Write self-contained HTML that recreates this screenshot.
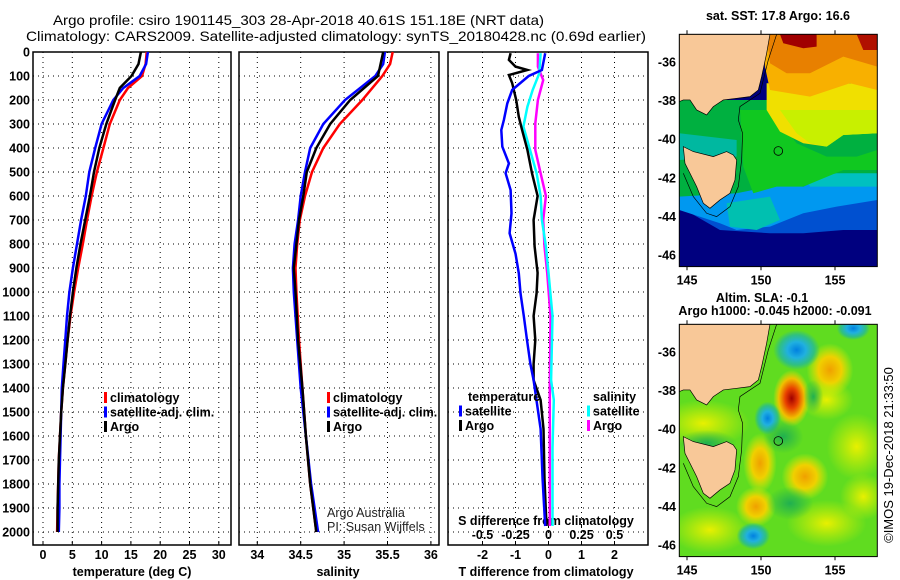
<!DOCTYPE html>
<html><head><meta charset="utf-8">
<style>
html,body{margin:0;padding:0;background:#fff;}
svg{display:block;font-family:"Liberation Sans",sans-serif;}
.t{font-size:12.5px;font-weight:bold;fill:#000;}
.h{font-size:14px;fill:#000;}
</style></head>
<body>
<svg id="c" width="900" height="580" viewBox="0 0 900 580" xmlns="http://www.w3.org/2000/svg">
<rect width="900" height="580" fill="#fff"/>
<text class="h" x="298.5" y="25" text-anchor="middle" textLength="491" lengthAdjust="spacingAndGlyphs">Argo profile: csiro 1901145_303 28-Apr-2018 40.61S 151.18E (NRT data)</text>
<text class="h" x="336" y="41" text-anchor="middle" textLength="620" lengthAdjust="spacingAndGlyphs">Climatology: CARS2009. Satellite-adjusted climatology: synTS_20180428.nc (0.69d earlier)</text>
<g id="plots"></g>

<!-- SST map -->
<g>
<text class="t" x="778" y="20" text-anchor="middle">sat. SST: 17.8 Argo: 16.6</text>
<svg x="679.3" y="34.3" width="198" height="232.3" viewBox="28 103 594 697" preserveAspectRatio="none">
<rect x="28" y="103" width="594" height="697" fill="#00007f"/>
<polygon points="28,590 300,570 400,560 500,530 622,540 622,690 520,690 400,700 300,700 150,690 28,620" fill="#0050d0"/>
<polygon points="28,580 200,560 300,550 400,560 500,510 622,520 622,600 500,620 400,640 300,680 200,690 150,670 28,630" fill="#0098f0"/>
<polygon points="400,520 520,500 622,500 622,560 520,560 420,560" fill="#00c0c0"/>
<polygon points="28,300 300,300 622,380 622,520 500,520 400,540 300,560 200,580 28,590" fill="#00b040"/>
<polygon points="210,330 300,330 380,430 470,470 560,470 622,450 622,510 520,510 400,560 320,560 250,580 220,500" fill="#10c820"/>
<polygon points="28,400 200,420 200,470 28,480" fill="#00b8a0"/>
<polygon points="170,610 300,590 330,660 260,690 180,680" fill="#00c0b0"/>
<polygon points="290,250 622,250 622,400 520,405 470,440 400,430 330,395 290,330" fill="#f0e000"/>
<polygon points="330,330 500,330 622,330 622,400 520,405 470,440 420,430 380,400" fill="#c8f000"/>
<polygon points="280,103 622,103 622,270 540,250 420,290 300,270 285,200" fill="#f8b000"/>
<polygon points="290,103 622,103 622,200 520,170 420,220 350,220 300,190" fill="#e88000"/>
<polygon points="330,103 440,103 440,140 400,145 340,130" fill="#a00000"/>
<polygon points="560,103 622,103 622,150 580,150" fill="#b01000"/>
<polygon points="28,103 300,103 290,160 275,230 265,270 240,290 200,295 160,300 130,320 110,345 80,330 60,300 40,300 28,305" fill="#f8c898" stroke="#000" stroke-width="2"/>
<polygon points="40,440 70,455 130,470 170,455 190,465 200,480 195,540 180,580 150,600 120,625 100,610 80,560 60,520 45,490" fill="#f8c898" stroke="#000" stroke-width="2"/>
<polyline points="320,103 295,180 270,280 210,320 205,360 218,400 215,480 205,560 180,620 140,650 110,640 70,590 40,520" fill="none" stroke="#000" stroke-width="2"/>
<circle cx="325" cy="453" r="13" fill="none" stroke="#000" stroke-width="2.5"/>
</svg>
<rect x="679.3" y="34.3" width="198" height="232.3" fill="none" stroke="#000" stroke-width="1"/>
</g>

<!-- SLA map -->
<g>
<text class="t" x="762" y="302" text-anchor="middle">Altim. SLA: -0.1</text>
<text class="t" x="775" y="315" text-anchor="middle">Argo h1000: -0.045 h2000: -0.091</text>
<svg x="679.3" y="324.3" width="198" height="232.3" viewBox="28 103 594 697" preserveAspectRatio="none">
<defs>
<radialGradient id="gr"><stop offset="0" stop-color="#a00000"/><stop offset="0.35" stop-color="#e84000"/><stop offset="0.7" stop-color="#f0c000"/><stop offset="1" stop-color="#f0e000" stop-opacity="0"/></radialGradient>
<radialGradient id="go"><stop offset="0" stop-color="#f0a000"/><stop offset="0.5" stop-color="#f0d000"/><stop offset="1" stop-color="#e0f000" stop-opacity="0"/></radialGradient>
<radialGradient id="gy"><stop offset="0" stop-color="#e8f000"/><stop offset="1" stop-color="#d8f000" stop-opacity="0"/></radialGradient>
<radialGradient id="gb"><stop offset="0" stop-color="#0080e0"/><stop offset="0.4" stop-color="#20b0e0"/><stop offset="0.75" stop-color="#30c080"/><stop offset="1" stop-color="#30c080" stop-opacity="0"/></radialGradient>
<radialGradient id="gg"><stop offset="0" stop-color="#20b050"/><stop offset="1" stop-color="#20b050" stop-opacity="0"/></radialGradient>
</defs>
<rect x="28" y="103" width="594" height="697" fill="#60dc20"/>
<ellipse cx="480" cy="240" rx="70" ry="80" fill="url(#go)"/>
<ellipse cx="560" cy="470" rx="90" ry="100" fill="url(#gy)"/>
<ellipse cx="270" cy="520" rx="50" ry="90" fill="url(#go)"/>
<ellipse cx="405" cy="560" rx="70" ry="70" fill="url(#go)"/>
<ellipse cx="258" cy="650" rx="60" ry="60" fill="url(#go)"/>
<ellipse cx="470" cy="700" rx="120" ry="70" fill="url(#gy)"/>
<ellipse cx="580" cy="620" rx="70" ry="70" fill="url(#gy)"/>
<ellipse cx="100" cy="400" rx="140" ry="70" fill="url(#gy)"/>
<ellipse cx="470" cy="330" rx="80" ry="60" fill="url(#gy)"/>
<ellipse cx="120" cy="720" rx="120" ry="70" fill="url(#gy)"/>
<ellipse cx="365" cy="325" rx="55" ry="85" fill="url(#gr)"/>
<ellipse cx="380" cy="180" rx="70" ry="60" fill="url(#gb)"/>
<ellipse cx="293" cy="385" rx="40" ry="50" fill="url(#gb)"/>
<ellipse cx="250" cy="738" rx="50" ry="40" fill="url(#gb)"/>
<ellipse cx="550" cy="115" rx="50" ry="35" fill="url(#gb)"/>
<ellipse cx="430" cy="320" rx="30" ry="50" fill="url(#gg)"/>
<ellipse cx="340" cy="440" rx="60" ry="50" fill="url(#gg)"/>
<ellipse cx="360" cy="640" rx="70" ry="50" fill="url(#gg)"/>
<ellipse cx="110" cy="460" rx="90" ry="40" fill="url(#gg)"/>
<polygon points="28,103 300,103 290,160 275,230 265,270 240,290 200,295 160,300 130,320 110,345 80,330 60,300 40,300 28,305" fill="#f8c898" stroke="#000" stroke-width="2"/>
<polygon points="40,440 70,455 130,470 170,455 190,465 200,480 195,540 180,580 150,600 120,625 100,610 80,560 60,520 45,490" fill="#f8c898" stroke="#000" stroke-width="2"/>
<polyline points="320,103 295,180 270,280 210,320 205,360 218,400 215,480 205,560 180,620 140,650 110,640 70,590 40,520" fill="none" stroke="#000" stroke-width="2"/>
<circle cx="325" cy="453" r="13" fill="none" stroke="#000" stroke-width="2.5"/>
</svg>
<rect x="679.3" y="324.3" width="198" height="232.3" fill="none" stroke="#000" stroke-width="1"/>
</g>
<text x="0" y="0" transform="translate(893,455) rotate(-90)" text-anchor="middle" style="font-size:13px">©IMOS 19-Dec-2018 21:33:50</text>
</svg>
<script>
// ---- data ----
const tDepth = [0,50,100,150,200,300,400,500,600,700,800,900,1000,1100,1200,1300,1400,1500,1600,1700,1800,1900,2000];
const tClim  = [17.7,17.5,16.9,14.5,13.1,11.4,10.3,9.2,8.3,7.5,6.8,6.0,5.3,4.7,4.2,3.8,3.4,3.1,2.9,2.7,2.6,2.5,2.4];
const tSat   = [17.9,17.6,16.5,13.7,12.0,10.0,8.9,7.9,7.3,6.5,5.8,5.1,4.5,4.1,3.8,3.5,3.2,3.1,3.0,2.9,2.8,2.8,2.7];
const tArgo  = [16.7,16.3,15.1,13.1,12.3,10.8,9.6,8.7,8.0,7.2,6.4,5.7,5.1,4.6,4.2,3.8,3.4,3.1,2.9,2.7,2.6,2.5,2.5];
const sDepth = [0,50,100,200,300,400,500,600,700,800,900,1000,1200,1400,1600,1800,2000];
const sClim  = [35.56,35.53,35.44,35.21,34.95,34.76,34.63,34.55,34.49,34.46,34.44,34.45,34.48,34.52,34.56,34.61,34.68];
const sSat   = [35.47,35.45,35.36,35.01,34.76,34.61,34.55,34.50,34.47,34.43,34.41,34.42,34.46,34.50,34.56,34.62,34.70];
const sArgo  = [35.45,35.42,35.39,35.07,34.84,34.68,34.57,34.53,34.48,34.45,34.42,34.44,34.47,34.52,34.56,34.61,34.68];
const dtArgoDepth = [5,33,61,75,96,130,200,270,325,408,505,600,700,810,920,1005,1100,1200,1300,1367,1450,1570,1780,1975];
const dtArgo = [-1.15,-1.2,-1.0,-0.64,-1.2,-1.1,-0.98,-0.9,-0.8,-0.64,-0.5,-0.33,-0.45,-0.42,-0.33,-0.36,-0.45,-0.4,-0.45,-0.45,-0.24,-0.15,-0.12,-0.06];
const dtSatDepth = [5,75,100,158,214,283,325,394,464,505,575,672,755,840,922,1005,1100,1200,1300,1367,1570,1780,1975];
const dtSat = [-0.1,-0.2,-0.6,-1.1,-1.25,-1.35,-1.43,-1.4,-1.2,-1.3,-1.15,-1.12,-1.18,-1.0,-0.9,-0.85,-0.75,-0.65,-0.55,-0.45,-0.24,-0.18,-0.1];
const dsSatDepth = [5,89,158,228,311,408,505,600,700,810,920,1100,1367,1450,1650,1975];
const dsSat = [-0.06,-0.07,-0.12,-0.16,-0.19,-0.14,-0.09,-0.06,-0.05,-0.02,0,0.03,0.02,0.04,0.03,0.03];
const dsArgoDepth = [5,61,117,200,297,408,505,600,700,810,920,1100,1400,1975];
const dsArgo = [-0.08,-0.08,-0.04,-0.08,-0.1,-0.1,-0.06,-0.02,-0.04,-0.03,-0.01,0.015,0.01,0.01];
const depthTicks = [0,100,200,300,400,500,600,700,800,900,1000,1100,1200,1300,1400,1500,1600,1700,1800,1900,2000];
const tTicks = [0,5,10,15,20,25,30];
const sTicks = [34,34.5,35,35.5,36];
const dtTicks = [-2,-1,0,1,2];
const dsTicks = [-0.5,-0.25,0,0.25,0.5];
const latTicks = [-36,-38,-40,-42,-44,-46];
const lonTicks = [145,150,155];

const NS='http://www.w3.org/2000/svg';
const root=document.getElementById('plots');
function mk(tag,attrs,parent){const e=document.createElementNS(NS,tag);for(const k in attrs)e.setAttribute(k,attrs[k]);(parent||root).appendChild(e);return e;}
const TOP=52, BOT=545;
const yD=d=>TOP+d*0.24;
const xT=v=>43+v*5.86;
const xS=v=>257.3+(v-34)*86.8;
const xDT=v=>548.5+v*33;
const xDS=v=>548.5+v*132;
const panels=[[33,231],[239,439],[448,648]];

panels.forEach((p,i)=>{
  const g=mk('g',{});
  
  
  depthTicks.forEach(d=>{
    const l=mk('line',{x1:p[0],x2:p[1],y1:yD(d),y2:yD(d),stroke:'#000','stroke-width':1,'stroke-dasharray':'1,4'},g);
    
    
  });
  const vt = i===0?tTicks.map(xT):i===1?sTicks.map(xS):dtTicks.map(xDT);
  vt.forEach(x=>{
    const l=mk('line',{x1:x,x2:x,y1:TOP,y2:BOT,stroke:'#000','stroke-width':1,'stroke-dasharray':'1,4'},g);
    
    
    mk('line',{x1:x,x2:x,y1:BOT,y2:BOT-4,stroke:'#000'},g);
  });
  const fr=mk('rect',{x:p[0],y:TOP,width:p[1]-p[0],height:BOT-TOP,fill:'none',stroke:'#000','stroke-width':1.5},g);
  
  
});
depthTicks.forEach(d=>{
  const t=mk('text',{class:'t',x:30,y:yD(d)+4.5,'text-anchor':'end'});
  t.textContent=d;
  
  
});
function xlabels(ticks,fx,y){ticks.forEach(v=>{const t=mk('text',{class:'t',x:fx(v),y:y,'text-anchor':'middle'});t.textContent=v;
  
  });}
xlabels(tTicks,xT,559);
xlabels(sTicks,xS,559);
xlabels(dtTicks,xDT,559);
dsTicks.forEach(v=>{const t=mk('text',{class:'t',x:xDS(v),y:539,'text-anchor':'middle'});t.textContent=String(v);
  
  
  mk('line',{x1:xDS(v),x2:xDS(v),y1:528,y2:524,stroke:'#000'});});
function title(x,y,s,n){const t=mk('text',{class:'t',x:x,y:y,'text-anchor':'middle'});t.textContent=s;
  
  }
title(132,576,'temperature (deg C)','x-axis-title-temperature');
title(338,576,'salinity','x-axis-title-salinity');
title(546,576,'T difference from climatology','x-axis-title-t-diff');
title(546,525,'S difference from climatology','s-diff-axis-title');

function line(xs,ds,fx,color,name){
  const pts=xs.map((v,i)=>fx(v).toFixed(1)+','+yD(ds[i]).toFixed(1)).join(' ');
  const l=mk('polyline',{points:pts,fill:'none',stroke:color,'stroke-width':2.5,'stroke-linejoin':'miter'});
  
  
}
line(tClim,tDepth,xT,'#ff0000','temp-climatology-line');
line(tSat,tDepth,xT,'#0000ff','temp-satellite-line');
line(tArgo,tDepth,xT,'#000000','temp-argo-line');
line(sClim,sDepth,xS,'#ff0000','sal-climatology-line');
line(sSat,sDepth,xS,'#0000ff','sal-satellite-line');
line(sArgo,sDepth,xS,'#000000','sal-argo-line');
line(dsArgo,dsArgoDepth,xDS,'#ff00ff','sdiff-argo-line');
line(dsSat,dsSatDepth,xDS,'#00ffff','sdiff-satellite-line');
line(dtArgo,dtArgoDepth,xDT,'#000000','tdiff-argo-line');
line(dtSat,dtSatDepth,xDT,'#0000ff','tdiff-satellite-line');

function legend(x,y,items,name){
  const g=mk('g',{});
  
  
  items.forEach((it,i)=>{
    const yy=y+i*14.5;
    if(it[1]) mk('rect',{x:x,y:yy-10,width:3,height:11,fill:it[1]},g);
    const t=mk('text',{class:'t',x:x+(it[1]?6:0),y:yy},g);t.textContent=it[0];
  });
}
legend(104,402,[['climatology','#ff0000'],['satellite-adj. clim.','#0000ff'],['Argo','#000000']],'temp-legend');
legend(327,402,[['climatology','#ff0000'],['satellite-adj. clim.','#0000ff'],['Argo','#000000']],'sal-legend');
legend(468,401,[['temperature',null]],'tdiff-legend-title');
legend(459,415.5,[['satellite','#0000ff'],['Argo','#000000']],'tdiff-legend');
legend(593,401,[['salinity',null]],'sdiff-legend-title');
legend(587,415.5,[['satellite','#00ffff'],['Argo','#ff00ff']],'sdiff-legend');
[['Argo Australia',517],['PI: Susan Wijffels',531]].forEach((a,i)=>{const t=mk('text',{x:327,y:a[1],style:'font-size:12.5px',fill:'#222'});t.textContent=a[0];
  
  });

const lonX=v=>687+(v-145)*14.8;
[[0,34.3],[290,324.3]].forEach((m,k)=>{
  latTicks.forEach(la=>{
    const y=62+(-36-la)*19.3+m[0];
    mk('line',{x1:679,x2:683,y1:y,y2:y,stroke:'#000'});
    mk('line',{x1:873,x2:877,y1:y,y2:y,stroke:'#000'});
    const t=mk('text',{class:'t',x:676,y:y+4.5,'text-anchor':'end'});t.textContent=la;
    
    
  });
  lonTicks.forEach(lo=>{
    const x=lonX(lo);
    mk('line',{x1:x,x2:x,y1:m[1],y2:m[1]-4,stroke:'#000'});
    mk('line',{x1:x,x2:x,y1:m[1]+232,y2:m[1]+236,stroke:'#000'});
    const t=mk('text',{class:'t',x:x,y:m[1]+250,'text-anchor':'middle'});t.textContent=lo;
    
    
  });
});
</script>
</body></html>
